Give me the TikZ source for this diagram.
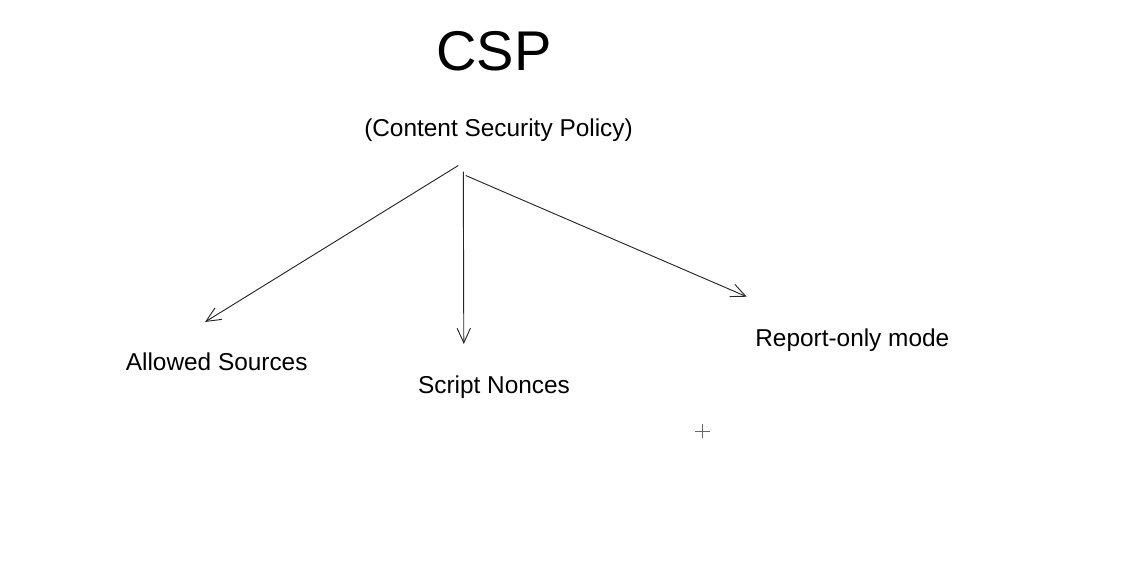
\documentclass[tikz,border=0pt]{standalone}
\usepackage{fontspec}
\setmainfont{Liberation Sans}
\usepackage{tikz}
\usetikzlibrary{arrows.meta}

\begin{document}
\begin{tikzpicture}
  [
    x=0.75pt, y=-0.75pt,
    title/.style={
       inner sep=0pt,
       anchor=base,
       font=\fontsize{42pt}{46pt}\selectfont
    },
    label/.style={
       inner sep=0pt,
       anchor=base,
       font=\fontsize{18.3pt}{21pt}\selectfont
    },
    branch/.style={
       draw=black!85,
       line width=0.7pt,
       -{Straight Barb[length=11pt,width=10pt,line width=0.7pt]}
    }
  ]
  \useasboundingbox (0,0) rectangle (1121,571);

  \node (csp)     at (494.0, 70.0) [title] {CSP};
  \node (full)    at (498.5,136.0) [label] {(Content Security Policy)};
  \node (allowed) at (216.7,370.7) [label] {Allowed Sources};
  \node (nonces)  at (494.0,393.3) [label] {Script Nonces};
  \node (report)  at (852.3,346.7) [label] {Report-only mode};

  % start and end points of the branches
  \coordinate (fromAllowed) at (458.3,165.5);
  \coordinate (fromNonces)  at (463.3,171.7);
  \coordinate (fromReport)  at (465.7,175.5);
  \coordinate (toAllowed)   at (205.0,322.0);
  \coordinate (toNonces)    at (463.8,344.0);
  \coordinate (toReport)    at (746.7,296.7);

  \draw [branch] (fromAllowed) -- (toAllowed);
  \draw [branch] (fromNonces)  -- (toNonces);
  \draw [branch] (fromReport)  -- (toReport);

  % cursor mark
  \coordinate (cursor) at (702.5,431.0);
  \draw [black!60, line width=0.7pt]
        ([xshift=-5.5pt]cursor) -- ([xshift=5.5pt]cursor)
        ([yshift=-5.5pt]cursor) -- ([yshift=5.5pt]cursor);
\end{tikzpicture}
\end{document}
